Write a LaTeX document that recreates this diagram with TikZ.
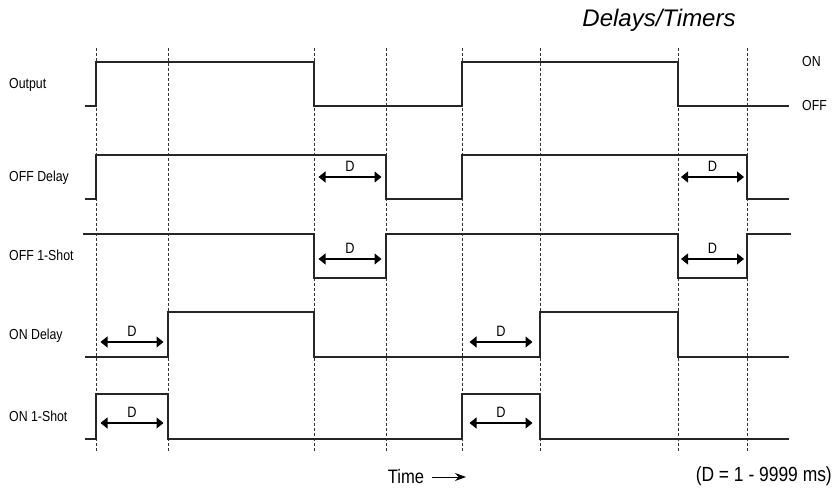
\documentclass[tikz,border=0pt]{standalone}
\usepackage{fontspec}
\setmainfont{Liberation Sans}
\newfontfamily\narrowfont{Liberation Sans}[FakeStretch=0.85]
\usetikzlibrary{arrows.meta}

\tikzset{
  sig/.style={line width=1.1pt, black!85},
  guide/.style={line width=0.7pt, black!80, dash pattern=on 3pt off 2pt},
  sigtext/.style={anchor=base west, inner sep=0pt, font=\narrowfont\fontsize{14.5}{16}\selectfont},
  dtext/.style={inner sep=0pt, font=\narrowfont\fontsize{15}{17}\selectfont},
  darrow/.style={line width=1.1pt, {Triangle[length=7pt,width=11pt]}-{Triangle[length=7pt,width=11pt]}},
  timearrow/.style={line width=0.9pt, -{Stealth[length=11pt,width=8pt]}},
}

% D の矢印 (区間 #1--#2 の中央, 高さ #3)
\newcommand{\dspan}[3]{%
  \draw[darrow] ({(#1+#2)/2-31.5},#3) -- ({(#1+#2)/2+31.5},#3);
  \node[dtext] at ({(#1+#2)/2},#3-10.5) {D};
}

\begin{document}
\begin{tikzpicture}[x=1pt, y=-1pt]
\useasboundingbox (0,0) rectangle (833,489);
% 縦の破線
\foreach \t in {96,168,314,386,462,540,678,747}
  \draw[guide] (\t,48) -- (\t,452);
% タイトル
\node[font=\itshape\fontsize{24}{28}\selectfont, inner sep=0pt] (title) at (659,20) {Delays/Timers};
% 信号名
\node[sigtext] (lblout) at (9,89) {Output};
\node[sigtext] (lbloffd) at (9,182) {OFF Delay};
\node[sigtext] (lbloffs) at (9,261) {OFF 1-Shot};
\node[sigtext] (lblond) at (9,339.5) {ON Delay};
\node[sigtext] (lblons) at (9,421.5) {ON 1-Shot};
\node[sigtext] (lblon) at (802,67) {ON};
\node[sigtext] (lbloff) at (802,111) {OFF};
% Output
\draw[sig] (85,106) -| (96,62) -| (314,106) -| (462,62) -| (678,106) -- (789,106);
% OFF Delay
\draw[sig] (85,199) -| (96,155) -| (386,199) -| (462,155) -| (747,199) -- (789,199);
\dspan{314}{386}{177}
\dspan{678}{747}{177}
% OFF 1-Shot
\draw[sig] (83,234) -| (314,278) -| (386,234) -| (678,278) -| (747,234) -- (791,234);
\dspan{314}{386}{259}
\dspan{678}{747}{259}
% ON Delay
\draw[sig] (85,357) -| (168,312) -| (314,357) -| (540,312) -| (678,357) -- (789,357);
\dspan{96}{168}{342}
\dspan{462}{540}{342}
% ON 1-Shot
\draw[sig] (85,439) -| (96,394) -| (168,439) -| (462,394) -| (540,439) -- (789,439);
\dspan{96}{168}{423}
\dspan{462}{540}{423}
% 時間軸
\node[inner sep=0pt, font=\narrowfont\fontsize{19.5}{21}\selectfont] (time) at (406,477) {Time};
\coordinate (timeend) at (466,477);
\draw[timearrow] ([xshift=8pt]time.east) -- (timeend);
\node[anchor=east, inner sep=0pt, font=\narrowfont\fontsize{20.5}{22}\selectfont] (drange) at (832,476) {(D = 1 - 9999 ms)};
\end{tikzpicture}
\end{document}
